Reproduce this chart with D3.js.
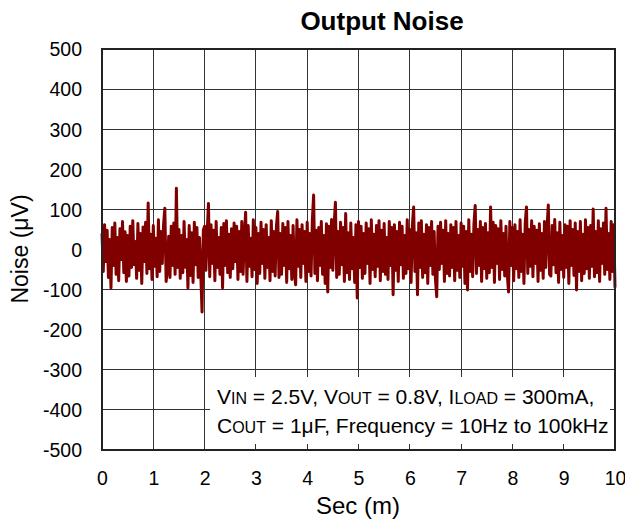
<!DOCTYPE html>
<html>
<head>
<meta charset="utf-8">
<script src="https://cdn.jsdelivr.net/npm/d3@7"></script>
<style>
  html, body { margin: 0; padding: 0; background: #fff; }
  svg { display: block; font-family: "Liberation Sans", Arial, sans-serif; }
</style>
</head>
<body>
<svg id="chart" width="625" height="527"></svg>
<script>
// ---- data ----
const title = "Output Noise";
const xLabel = "Sec (m)";
const yLabel = "Noise (\u03bcV)";
const xTicks = [0, 1, 2, 3, 4, 5, 6, 7, 8, 9, 10];
const yTicks = [500, 400, 300, 200, 100, 0, -100, -200, -300, -400, -500];
const sampleStepMs = 0.025;
// noise samples (µV), one every 0.025 ms
const noise = [
  40,-55,62,-30,48,-70,25,-96,55,-40,66,-62,30,-78,52,-25,70,-58,44,-80,
  35,-66,58,-45,72,-38,20,-72,65,-52,40,-85,56,-30,68,-60,116,-48,38,-75,
  60,-42,28,-68,74,-55,45,-35,62,103,-80,-50,33,-70,58,-40,66,-62,153,-45,
  50,-72,35,-58,70,-44,25,-96,60,-65,42,-82,68,-38,55,-70,30,-60,-156,48,
  58,-52,40,115,-68,62,-35,48,-78,70,-45,30,-62,55,-96,65,-40,72,-58,38,
  -70,52,-48,66,-30,58,-75,45,-55,70,-62,35,93,-80,60,-42,28,-68,74,-50,
  55,-85,40,-60,68,-35,50,-72,62,-45,30,-78,72,-55,45,-66,58,95,-70,40,
  -62,65,-40,55,-82,70,-48,35,-75,60,-58,-88,74,-42,50,-70,62,-35,45,-80,
  68,-55,40,-66,72,136,-60,48,-78,55,-40,70,-62,35,-85,64,-106,58,-45,75,
  -52,60,118,-70,45,-62,68,-38,55,-80,90,-58,42,-75,66,-48,30,-82,62,-121,
  70,-45,58,-72,40,-60,66,-35,52,-85,74,-50,38,-68,60,-42,72,-78,48,-55,
  65,-62,30,-75,70,-40,55,-113,62,-52,45,-80,68,-38,58,-72,35,-60,74,-48,
  50,-82,60,106,-55,42,-113,66,-45,72,-70,38,-58,62,-85,55,-40,70,-62,45,
  -75,-118,58,-50,68,-35,48,-80,72,-60,40,-66,62,-45,55,-78,70,-52,35,-70,
  66,-42,58,-85,45,-101,74,-55,38,-68,62,110,-60,50,-40,70,-80,55,-48,65,
  -72,42,-58,106,-45,68,-82,60,-35,52,-75,72,-50,40,-66,58,-62,-106,70,-40,
  55,-78,62,-48,45,-70,74,-55,38,-85,66,106,-60,50,-42,72,-68,58,-35,48,
  -80,64,-52,40,-72,70,-45,55,111,-62,-66,60,-38,75,-58,42,-82,68,-50,35,
  -70,62,-45,58,-85,72,-40,50,-65,66,-101,45,-55,70,-78,38,-60,74,-48,55,
  -72,60,-42,101,-68,45,-58,72,-80,52,-35,66,-62,103,-50,40,-75,70,-55,62,
  -95
];
const noteLine1 = [["V",false],["IN",true],[" = 2.5V, V",false],["OUT",true],[" = 0.8V, I",false],["LOAD",true],[" = 300mA,",false]];
const noteLine2 = [["C",false],["OUT",true],[" = 1\u03bcF, Frequency = 10Hz to 100kHz",false]];

// ---- layout ----
const svg = d3.select("#chart");
const plot = { left: 102, right: 615, top: 49, bottom: 450 };
const x = d3.scaleLinear().domain([0, 10]).range([plot.left, plot.right]);
const y = d3.scaleLinear().domain([-500, 500]).range([plot.bottom, plot.top]);

// grid
const grid = svg.append("g");
grid.selectAll("line.v").data(xTicks).join("line")
  .attr("x1", d => x(d)).attr("x2", d => x(d))
  .attr("y1", plot.top).attr("y2", plot.bottom)
  .attr("stroke", "#333").attr("stroke-width", 1).attr("shape-rendering", "crispEdges");
grid.selectAll("line.h").data(yTicks).join("line")
  .attr("x1", plot.left).attr("x2", plot.right)
  .attr("y1", d => y(d)).attr("y2", d => y(d))
  .attr("stroke", "#333").attr("stroke-width", 1).attr("shape-rendering", "crispEdges");

// note box (white, covers grid)
svg.append("rect")
  .attr("x", 210).attr("y", 377).attr("width", 400).attr("height", 67)
  .attr("fill", "#fff");

// trace
const pts = noise.map((v, i) => [i * sampleStepMs, v]);
svg.append("path")
  .datum(pts)
  .attr("fill", "none")
  .attr("stroke", "#800000")
  .attr("stroke-width", 3)
  .attr("stroke-linejoin", "round")
  .attr("d", d3.line().x(d => x(d[0])).y(d => y(d[1])));

// frame
svg.append("rect")
  .attr("x", plot.left).attr("y", plot.top)
  .attr("width", plot.right - plot.left).attr("height", plot.bottom - plot.top)
  .attr("fill", "none").attr("stroke", "#222").attr("stroke-width", 1.2)
  .attr("shape-rendering", "crispEdges");

// axes
const fmt = d => String(d);
const xAxis = d3.axisBottom(x).tickValues(xTicks).tickFormat(fmt).tickSize(0).tickPadding(35);
const gx = svg.append("g").attr("transform", `translate(0,${plot.bottom})`).call(xAxis);
gx.select(".domain").remove();
gx.selectAll("text").attr("font-size", 19.5).attr("fill", "#000")
  .attr("font-family", "'Liberation Sans', Arial, sans-serif").attr("dy", 0);

const yAxis = d3.axisLeft(y).tickValues(yTicks).tickFormat(fmt).tickSize(0).tickPadding(20);
const gy = svg.append("g").attr("transform", `translate(${plot.left},0)`).call(yAxis);
gy.select(".domain").remove();
gy.selectAll("text").attr("font-size", 19.5).attr("fill", "#000")
  .attr("font-family", "'Liberation Sans', Arial, sans-serif").attr("dy", "0.35em");

// title & labels
svg.append("text").attr("x", 382).attr("y", 30).attr("text-anchor", "middle")
  .attr("font-size", 26).attr("font-weight", "bold").text(title);
svg.append("text").attr("x", 358).attr("y", 514).attr("text-anchor", "middle")
  .attr("font-size", 24).text(xLabel);
svg.append("text").attr("transform", "translate(28,249) rotate(-90)")
  .attr("text-anchor", "middle").attr("font-size", 23).text(yLabel);

// note text
function noteLine(parts, yy) {
  const t = svg.append("text").attr("x", 217).attr("y", yy).attr("font-size", 21);
  parts.forEach(([s, sub]) => {
    t.append("tspan").attr("font-size", sub ? 16 : 21).text(s);
  });
}
noteLine(noteLine1, 404);
noteLine(noteLine2, 433);
</script>
</body>
</html>
